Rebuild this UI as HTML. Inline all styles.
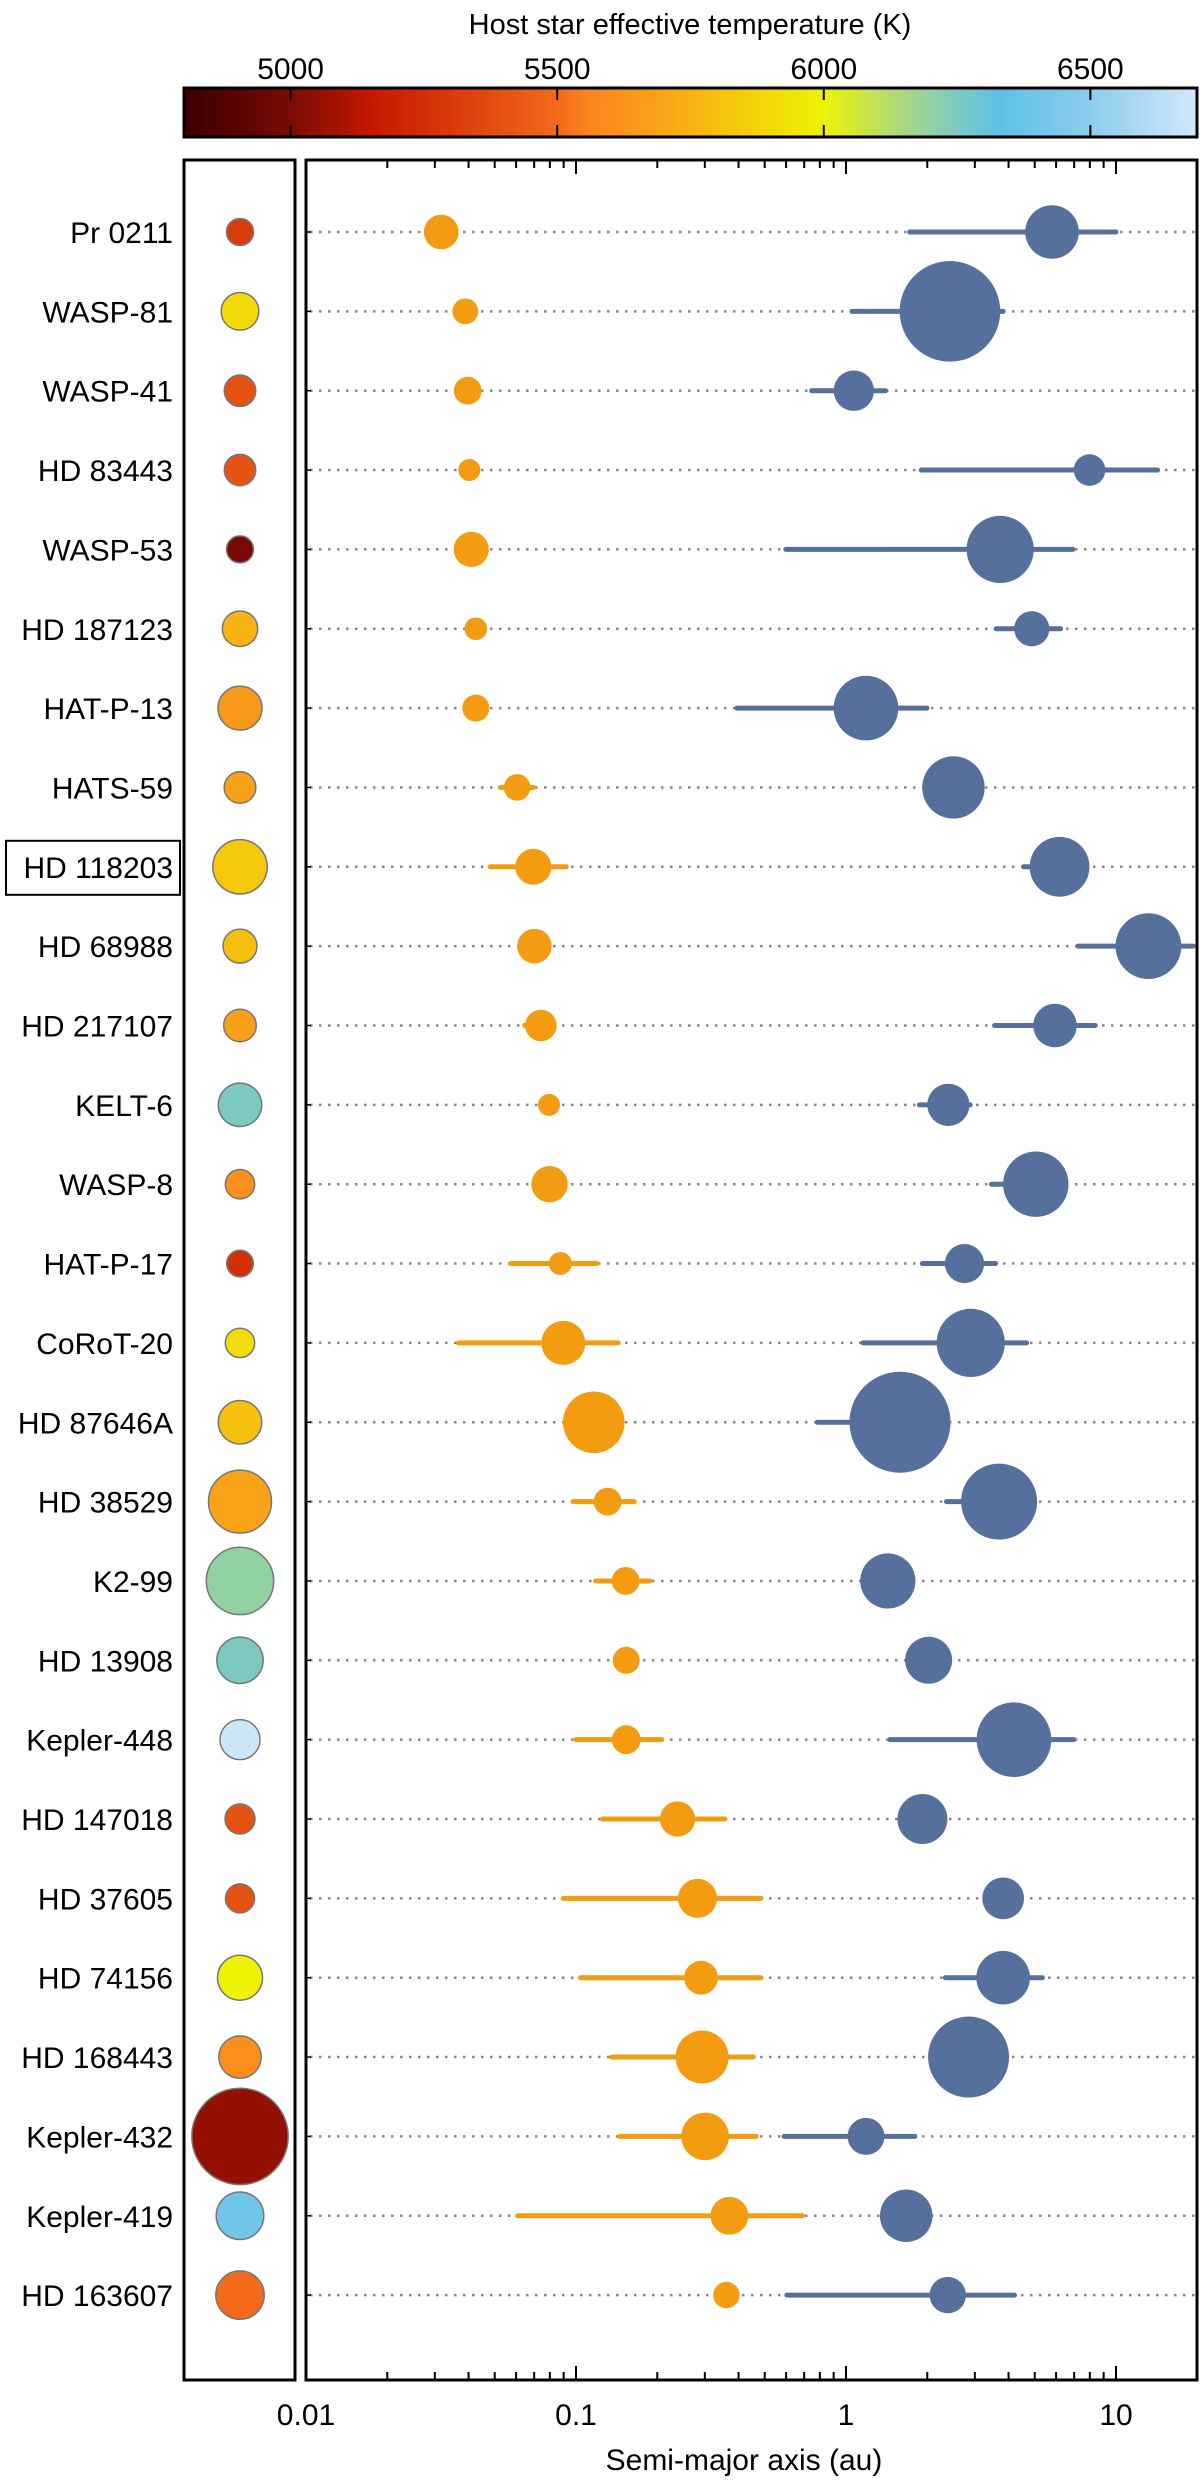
<!DOCTYPE html>
<html><head><meta charset="utf-8"><style>
html,body{margin:0;padding:0;background:#fff;}
svg{display:block;font-family:"Liberation Sans",sans-serif;}
</style></head><body>
<svg id="chart" width="1200" height="2486" viewBox="0 0 1200 2486" xmlns="http://www.w3.org/2000/svg">
<defs><linearGradient id="cmap" x1="0" x2="1" y1="0" y2="0"></linearGradient></defs>
<text x="690" y="34" font-size="29" text-anchor="middle">Host star effective temperature (K)</text>
<g id="cbar"></g>
<rect x="184" y="160" width="111" height="2220" fill="none" stroke="#000" stroke-width="3"/>
<rect x="306" y="160" width="891" height="2220" fill="none" stroke="#000" stroke-width="3"/>
<g id="grid"></g><g id="ticks"></g><g id="marks"></g><g id="labels"></g>
<text x="744" y="2470" font-size="30" text-anchor="middle">Semi-major axis (au)</text>
</svg>
<script>
const names=["Pr 0211","WASP-81","WASP-41","HD 83443","WASP-53","HD 187123","HAT-P-13","HATS-59","HD 118203","HD 68988","HD 217107","KELT-6","WASP-8","HAT-P-17","CoRoT-20","HD 87646A","HD 38529","K2-99","HD 13908","Kepler-448","HD 147018","HD 37605","HD 74156","HD 168443","Kepler-432","Kepler-419","HD 163607"];
const starTeff=[5300,5900,5400,5400,4990,5750,5650,5680,5830,5800,5680,6250,5600,5250,5920,5800,5700,6200,6250,6680,5400,5400,6000,5600,5050,6400,5500];
const starSize=[13.5,18.8,15.7,15.7,13.5,17.7,22,15.8,27.2,17,16.3,21.7,14.7,13.3,14.7,21.7,31.5,33.7,23.2,20,15,14.5,22.5,21.2,48.2,23.8,24.2];
const innerA=[-1.499,-1.41,-1.401,-1.395,-1.388,-1.371,-1.371,-1.218,-1.158,-1.154,-1.13,-1.1,-1.098,-1.058,-1.047,-0.934,-0.883,-0.816,-0.814,-0.814,-0.624,-0.55,-0.537,-0.533,-0.522,-0.432,-0.443];
const innerLo=[null,null,null,null,null,null,null,-1.28,-1.318,null,-1.19,null,null,-1.241,-1.435,null,-1.011,-0.927,null,-1.0,-0.902,-1.047,-0.983,-0.868,-0.838,-1.216,null];
const innerHi=[null,null,null,null,null,null,null,-1.158,-1.036,null,-1.13,null,null,-0.923,-0.844,null,-0.784,-0.727,null,-0.682,-0.449,-0.315,-0.315,-0.343,-0.332,-0.161,null];
const innerSize=[17.3,12.9,13.9,11,17.6,11.3,13.5,13.3,18,17.3,15.8,11,18.2,11.5,22,30.8,13.9,13.9,13.5,14.4,17.6,19.5,16.9,26.5,23.8,18.9,13.2];
const outerA=[0.763,0.385,0.029,0.902,0.571,0.688,0.074,0.398,0.791,1.12,0.774,0.379,0.703,0.439,0.462,0.2,0.567,0.155,0.306,0.622,0.283,0.582,0.582,0.454,0.074,0.223,0.377];
const outerLo=[0.236,0.022,-0.127,0.279,-0.223,0.556,-0.404,null,0.658,0.859,0.55,0.272,0.539,0.283,0.063,-0.106,0.372,null,null,0.163,null,null,0.368,null,-0.229,null,-0.219];
const outerHi=[1.0,0.582,0.146,1.154,0.84,0.795,0.30,null,0.791,1.286,0.923,0.46,0.703,0.554,0.669,0.2,0.567,null,null,0.844,null,null,0.727,null,0.255,null,0.624];
const outerSize=[26.8,50.3,20.2,15.8,33.6,17.6,32.3,31.2,29.9,32.9,21.8,21.1,32.7,19.6,34.1,50.5,38,27.6,23.5,37.3,25,20.9,26.8,40.5,18.5,26.3,18.2];
const xTicks=[0.01,0.1,1,10];
const xTickLabels=["0.01","0.1","1","10"];
const cTicks=[5000,5500,6000,6500];
const cmapT=[4800,4900,5000,5150,5300,5500,5560,5700,5820,6000,6150,6260,6330,6500,6700];
const cmapC=["#3a0000","#5a0402","#7a0c04","#c41800","#d93a0a","#f36a1a","#fb861c","#f9a418","#f5c60c","#eef206","#a8d880","#78c8c8","#5ec0e6","#8ccdee","#d2e8fa"];

const NS="http://www.w3.org/2000/svg";
function mk(tag,attrs,parent){const e=document.createElementNS(NS,tag);for(const k in attrs)e.setAttribute(k,attrs[k]);parent.appendChild(e);return e;}
const X0=306,X1=1197,LMIN=-2,LMAX=1.3;
const xs=l=>X0+(l-LMIN)/(LMAX-LMIN)*(X1-X0);
const ys=i=>232+i*79.35;
const C0=184,C1=1197;
const cs=t=>C0+(t-4800)/(6700-4800)*(C1-C0);
function hex(c){return [1,3,5].map(i=>parseInt(c.substr(i,2),16));}
function tcolor(t){
  if(t<=cmapT[0])return cmapC[0];
  for(let i=1;i<cmapT.length;i++){if(t<=cmapT[i]){const f=(t-cmapT[i-1])/(cmapT[i]-cmapT[i-1]);const a=hex(cmapC[i-1]),b=hex(cmapC[i]);return "rgb("+a.map((v,j)=>Math.round(v+(b[j]-v)*f)).join(",")+")";}}
  return cmapC[cmapC.length-1];
}
// colorbar
const grad=document.getElementById('cmap');
cmapT.forEach((t,i)=>{mk('stop',{offset:((t-4800)/1900),'stop-color':cmapC[i]},grad);});
const cb=document.getElementById('cbar');
mk('rect',{x:C0,y:88,width:C1-C0,height:49,fill:'url(#cmap)',stroke:'#000','stroke-width':3},cb);
cTicks.forEach(t=>{
  const x=cs(t);
  const l1=mk('line',{x1:x,x2:x,y1:88,y2:100,stroke:'#000','stroke-width':2},cb);
  
  
  mk('line',{x1:x,x2:x,y1:125,y2:137,stroke:'#000','stroke-width':2},cb);
  const tx=mk('text',{x:x,y:79,'font-size':30,'text-anchor':'middle'},cb);tx.textContent=t;
  
  
});
// axis ticks
const tk=document.getElementById('ticks');
for(let d=-2;d<=1;d++){for(let m=1;m<=9;m++){const l=d+Math.log10(m);if(l>LMAX)continue;const x=xs(l);const len=m===1?14:8;
  mk('line',{x1:x,x2:x,y1:160,y2:160+len,stroke:'#000','stroke-width':2},tk);
  mk('line',{x1:x,x2:x,y1:2380,y2:2380-len,stroke:'#000','stroke-width':2},tk);}}
xTicks.forEach((v,i)=>{const t=mk('text',{x:xs(Math.log10(v)),y:2425,'font-size':30,'text-anchor':'middle'},tk);t.textContent=xTickLabels[i];
  
  });
// rows
const g=document.getElementById('grid'),mg=document.getElementById('marks'),lg=document.getElementById('labels');
names.forEach((n,i)=>{
  const y=ys(i);
  const dl=mk('line',{x1:X0+4,x2:X1,y1:y,y2:y,stroke:'#888','stroke-width':2.5,'stroke-dasharray':'2.5 6.5'},g);
  
  
  mk('line',{x1:X0,x2:X0+5,y1:y,y2:y,stroke:'#000','stroke-width':1.5},g);
  const t=mk('text',{x:173,y:y+11,'font-size':30,'text-anchor':'end'},lg);t.textContent=n;
  
  
  if(n==="HD 118203"){const b=mk('rect',{x:6,y:y-26,width:174,height:54,fill:'none',stroke:'#000','stroke-width':2},lg);
    
    }
  const s=mk('circle',{cx:240,cy:y,r:starSize[i],fill:tcolor(starTeff[i]),stroke:'#777','stroke-width':1.5},mg);
  
  
  if(innerLo[i]!==null){const e=mk('line',{x1:xs(innerLo[i]),x2:xs(innerHi[i]),y1:y,y2:y,stroke:'#f39c12','stroke-width':5,'stroke-linecap':'round'},mg);
    
    }
  const c1=mk('circle',{cx:xs(innerA[i]),cy:y,r:innerSize[i],fill:'#f39c12'},mg);
  
  
  if(outerLo[i]!==null){const e=mk('line',{x1:xs(outerLo[i]),x2:xs(outerHi[i]),y1:y,y2:y,stroke:'#56709e','stroke-width':5,'stroke-linecap':'round'},mg);
    
    }
  const c2=mk('circle',{cx:xs(outerA[i]),cy:y,r:outerSize[i],fill:'#56709e'},mg);
  
  
});
</script>
</body></html>
